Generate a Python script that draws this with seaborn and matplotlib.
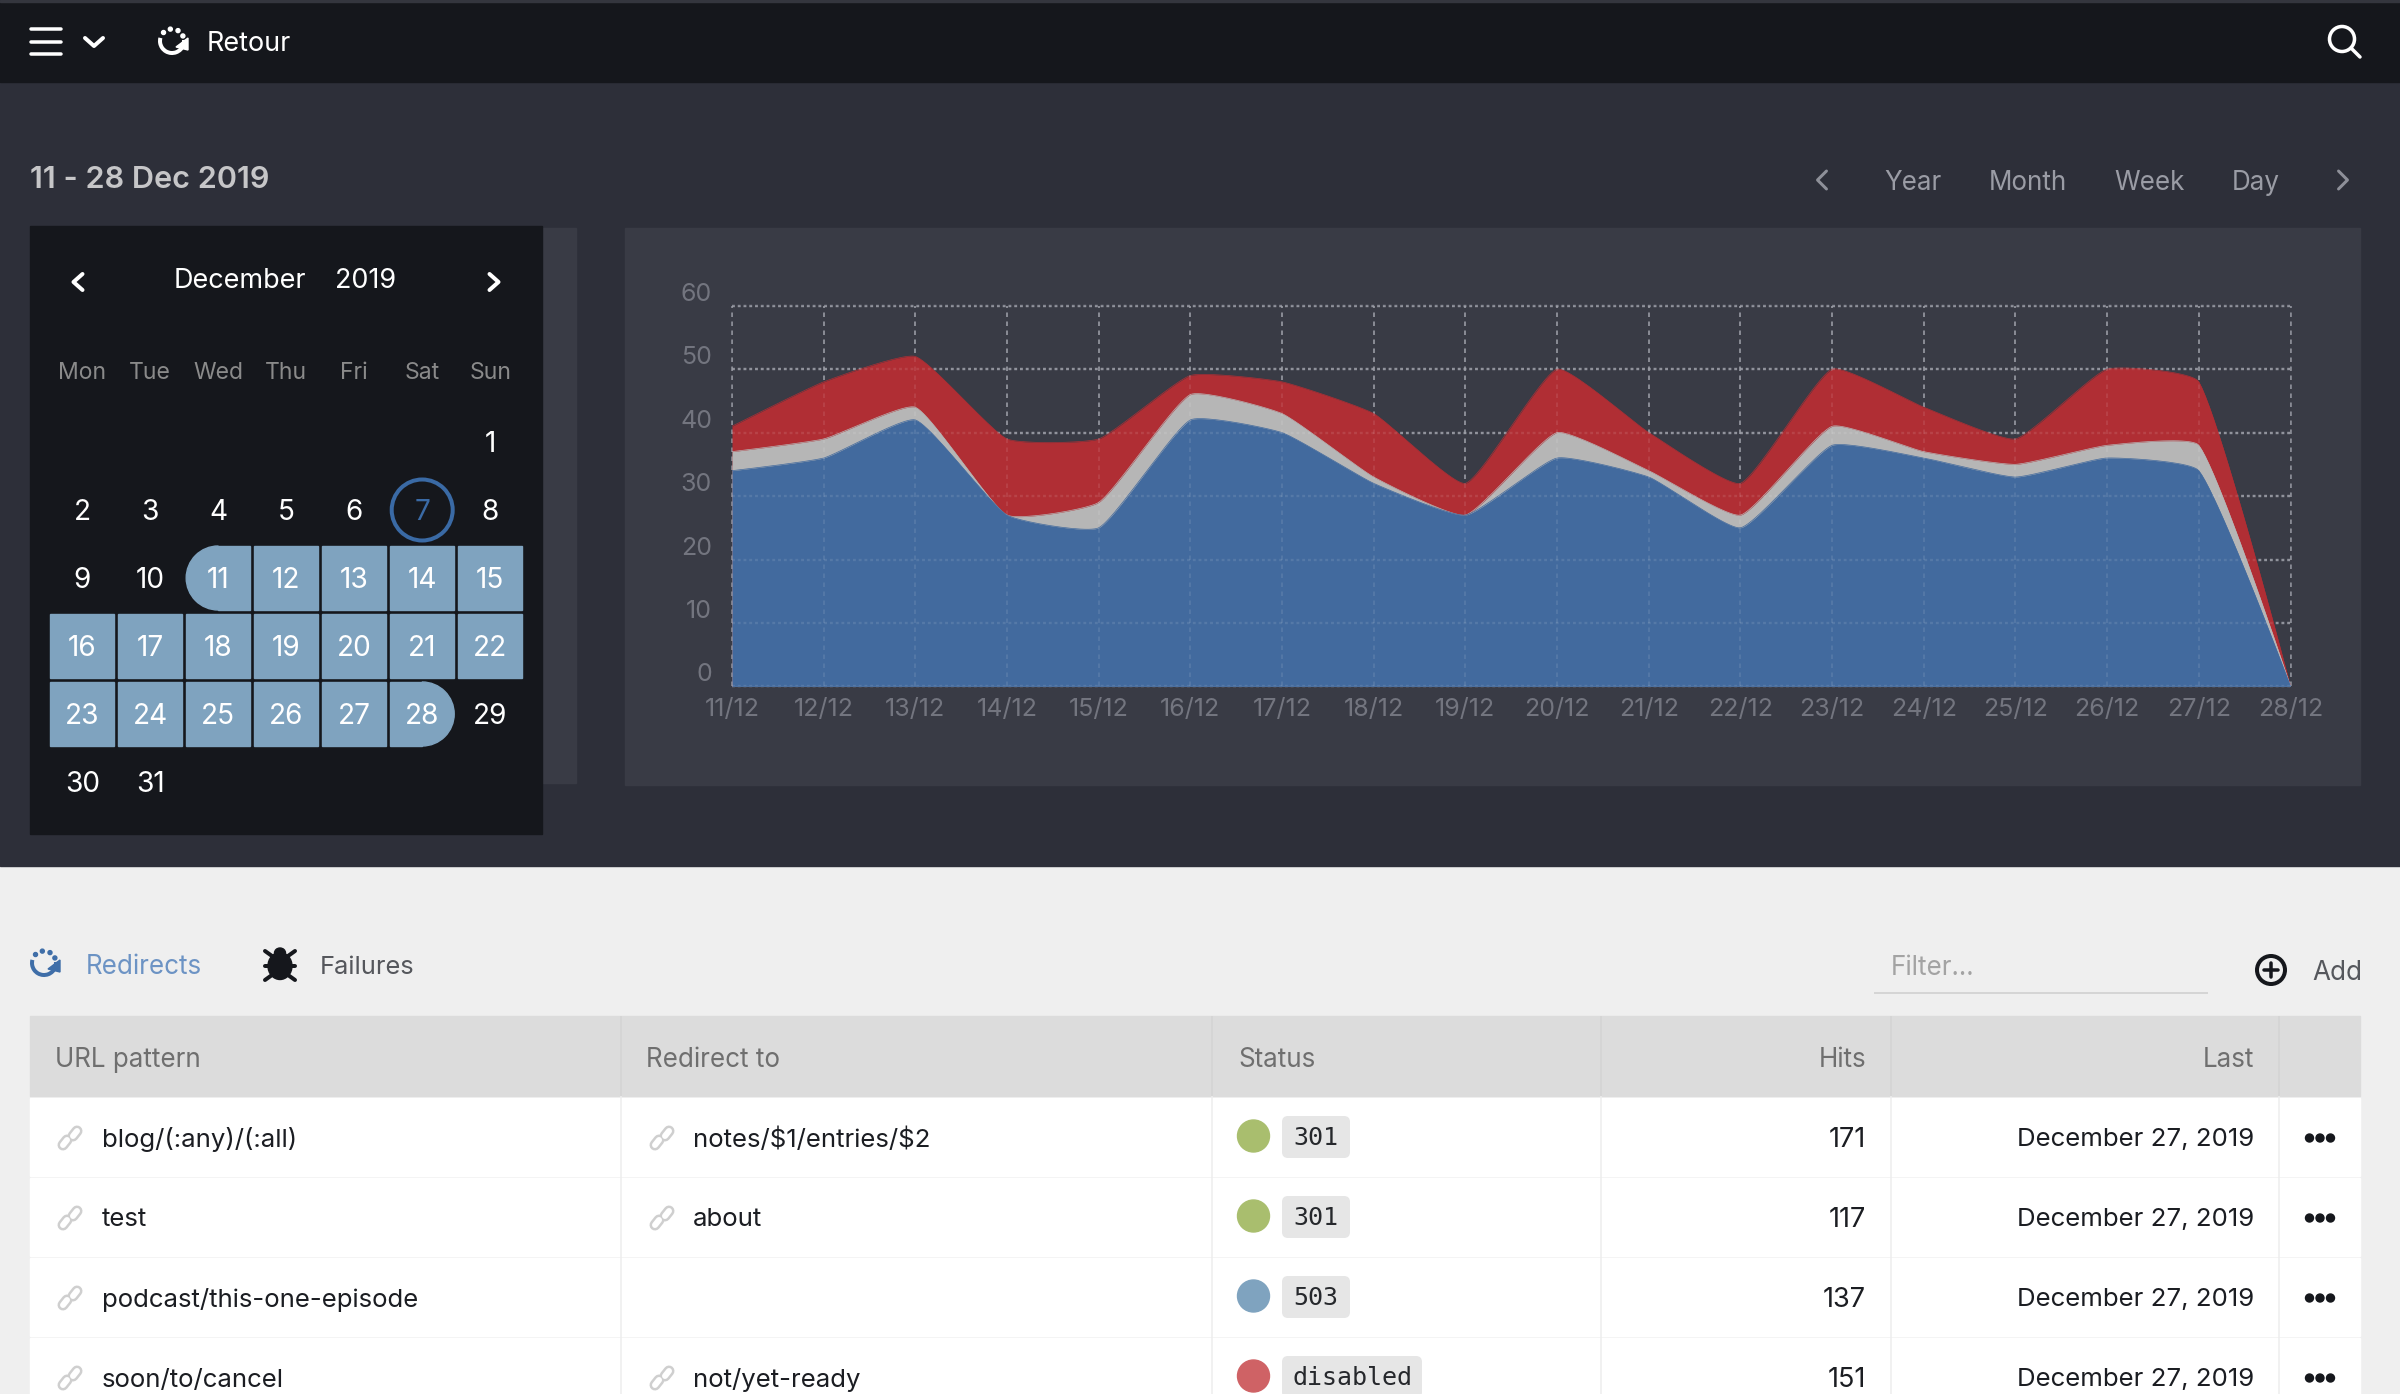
import numpy as np
import pandas as pd
import matplotlib
matplotlib.use('Agg')
import matplotlib.pyplot as plt
import seaborn as sns
from matplotlib.lines import Line2D
from matplotlib.patches import Arc, Circle, Ellipse, FancyBboxPatch, Polygon, Rectangle, Wedge

# chart data, stacked from the bottom up
days = ['11/12', '12/12', '13/12', '14/12', '15/12', '16/12', '17/12', '18/12', '19/12',
        '20/12', '21/12', '22/12', '23/12', '24/12', '25/12', '26/12', '27/12', '28/12']
redirect_hits = [34, 36, 42, 27, 25, 42, 40, 32, 27, 36, 33, 25, 38, 36, 33, 36, 34, 0]
unavailable_hits = [3, 3, 2, 0, 4, 4, 3, 1, 0, 4, 1, 2, 3, 1, 2, 2, 4, 0]
failed_hits = [4, 9, 8, 12, 10, 3, 5, 10, 5, 10, 6, 5, 9, 7, 4, 12, 10, 0]
y_ticks = [0, 10, 20, 30, 40, 50, 60]

# page text
weekdays = ['Mon', 'Tue', 'Wed', 'Thu', 'Fri', 'Sat', 'Sun']
nav_labels = ['Year', 'Month', 'Week', 'Day']
table_headers = ['URL pattern', 'Redirect to', 'Status', 'Hits', 'Last']
url_patterns = ['blog/(:any)/(:all)', 'test', 'podcast/this-one-episode', 'soon/to/cancel']
redirect_targets = ['notes/$1/entries/$2', 'about', '', 'not/yet-ready']
statuses = ['301', '301', '503', 'disabled']
hits = ['171', '117', '137', '151']
last_dates = ['December 27, 2019'] * 4

W, H = 2400, 1394
DARK = '#15171C'
PAGE = '#2D2F39'
PANEL = '#393B45'
LIGHT = '#EFEFEF'
RANGE = '#7FA3BF'
BLUE = '#426A9E'
RED = '#B02E34'
GRAY = '#B6B6B6'
GRID = '#858791'
TICK = '#73757F'
STATUS_COLORS = {'301': '#A9BE6E', '503': '#7FA3BF', 'disabled': '#CF6265'}

CHART_LEFT, CHART_RIGHT, CHART_TOP, CHART_BOTTOM = 732, 2290.5, 305.7, 686.4


def pt(px):
    return px * 0.72


def smooth_curve(values, tension=0.15, steps=24):
    # bezier spline with tension, control points weighted by pixel distance
    sx = (CHART_RIGHT - CHART_LEFT) / (len(values) - 1)
    sy = (CHART_BOTTOM - CHART_TOP) / 60
    y = np.array(values, dtype=float)
    x = np.arange(len(y), dtype=float)
    n = len(y)
    before = np.zeros((n, 2))
    after = np.zeros((n, 2))
    for i in range(n):
        cur = np.array([x[i], y[i]])
        before[i] = cur
        after[i] = cur
        if i == 0 or i == n - 1:
            continue
        prev_gap = np.hypot(sx, (y[i] - y[i - 1]) * sy)
        next_gap = np.hypot(sx, (y[i + 1] - y[i]) * sy)
        total = prev_gap + next_gap
        delta = np.array([x[i + 1] - x[i - 1], y[i + 1] - y[i - 1]])
        before[i] = cur - delta * tension * prev_gap / total
        after[i] = cur + delta * tension * next_gap / total
    xs, ys = [], []
    t = np.linspace(0, 1, steps)[:, None]
    for i in range(n - 1):
        p0, p3 = np.array([x[i], y[i]]), np.array([x[i + 1], y[i + 1]])
        pts = (1 - t) ** 3 * p0 + 3 * (1 - t) ** 2 * t * after[i] + 3 * (1 - t) * t ** 2 * before[i + 1] + t ** 3 * p3
        xs.extend(pts[:, 0])
        ys.extend(pts[:, 1])
    return np.array(xs), np.array(ys)


def text(ax, x, y, s, size, color, ha='left', va='center', weight='normal', family=None):
    # centre of the lettering sits a little under the centre of the text box
    return ax.text(x, y + 3, s, fontsize=pt(size), color=color, ha=ha, va=va, fontweight=weight,
                   family=family or 'Inter', parse_math=False)


def line(ax, xs, ys, color, width, cap='round', z=3):
    ax.add_line(Line2D(xs, ys, color=color, lw=pt(width), solid_capstyle=cap,
                       solid_joinstyle='round', zorder=z))


def chevron(ax, x, y, direction, color, w=7, h=9, width=3.5):
    if direction == 'left':
        line(ax, [x + w / 2, x - w / 2, x + w / 2], [y - h, y, y + h], color, width)
    elif direction == 'right':
        line(ax, [x - w / 2, x + w / 2, x - w / 2], [y - h, y, y + h], color, width)
    else:
        line(ax, [x - h, x, x + h], [y - w / 2, y + w / 2, y - w / 2], color, width)


def logo(ax, cx, cy, color, r=12):
    ax.add_patch(Arc((cx, cy), 2 * r, 2 * r, theta1=-5, theta2=195, color=color, lw=pt(4), zorder=3))
    for angle in [225, 262, 300, 335]:
        a = np.radians(angle)
        ax.add_patch(Circle((cx + r * np.cos(a), cy + r * np.sin(a)), 2, color=color, zorder=3))
    ax.add_patch(Polygon([(cx + r + 4, cy + 9), (cx + r - 8, cy + 6), (cx + r + 4, cy - 3)],
                         color=color, zorder=3))


def bug(ax, cx, cy, color='#15171C'):
    ax.add_patch(Ellipse((cx, cy + 3), 24, 27, color=color, zorder=3))
    ax.add_patch(Ellipse((cx, cy - 10), 11, 10, color=color, zorder=3))
    for dy, lean in [(-7, -5), (3, 0), (12, 5)]:
        line(ax, [cx - 8, cx - 15], [cy + dy, cy + dy + lean], color, 4)
        line(ax, [cx + 8, cx + 15], [cy + dy, cy + dy + lean], color, 4)


def link_icon(ax, cx, cy):
    for x0, y0, x1, y1 in [(-7, 7, -3, 2), (3, -2, 7, -7)]:
        line(ax, [cx + x0, cx + x1], [cy + y0, cy + y1], '#CFCFCF', 11)
        line(ax, [cx + x0, cx + x1], [cy + y0, cy + y1], 'white', 6, z=4)


sns.set_theme(style='dark')
plt.rcParams['font.family'] = ['Inter', 'DejaVu Sans']

fig = plt.figure(figsize=(W / 100, H / 100), dpi=100, facecolor=LIGHT)
ui = fig.add_axes([0, 0, 1, 1])
ui.set_xlim(0, W)
ui.set_ylim(H, 0)
ui.axis('off')

# dark top part of the page
ui.add_patch(Rectangle((0, 0), W, 866, color=PAGE, zorder=0))
ui.add_patch(Rectangle((0, 0), W, 82, color=DARK, zorder=1))
ui.add_patch(Rectangle((0, 0), W, 2, color='#34363E', zorder=1))
for y in [28.5, 41.5, 54]:
    line(ui, [31, 61], [y, y], 'white', 3.5)
chevron(ui, 94, 42, 'down', 'white', w=8, h=9, width=4)
logo(ui, 172, 41, 'white')
text(ui, 207, 41, 'Retour', 27, 'white')
ui.add_patch(Circle((2342, 39), 12.5, fill=False, ec='white', lw=pt(3.5), zorder=3))
line(ui, [2351, 2360], [48, 57], 'white', 3.5)

text(ui, 30, 176.5, '11 - 28 Dec 2019', 30.6, '#C6C6C8', weight='semibold')
chevron(ui, 1822, 180, 'left', '#8E9099', w=9, h=9, width=3)
chevron(ui, 2343, 180, 'right', '#8E9099', w=9, h=9, width=3)
for label, x in zip(nav_labels, [1913, 2028, 2150, 2256]):
    text(ui, x, 180, label, 26, '#9A9CA5', ha='center')

# calendar
ui.add_patch(Rectangle((542, 228), 34, 555, color=PANEL, zorder=1))
ui.add_patch(Rectangle((30, 226), 512, 608, color=DARK, zorder=2))
chevron(ui, 78, 282, 'left', 'white', w=9, h=8, width=4)
chevron(ui, 494, 282, 'right', 'white', w=9, h=8, width=4)
text(ui, 240, 278, 'December', 27, 'white', ha='center')
text(ui, 366, 278, '2019', 27, 'white', ha='center')
col_x = [82.2 + 68 * i for i in range(7)]
row_y = [442 + 68 * i for i in range(6)]
for label, x in zip(weekdays, col_x):
    text(ui, x, 370, label, 23, '#8A8A8A', ha='center')

day = 1
for row in range(6):
    start = 6 if row == 0 else 0
    for col in range(start, 7):
        if day > 31:
            break
        x, y = col_x[col], row_y[row]
        color = 'white'
        if 11 <= day <= 28:
            left, top = x - 32, y - 32
            if day == 11 or day == 28:
                # half round end of the selected range
                ui.add_patch(Rectangle((x if day == 11 else left, top), 32, 64, color=RANGE, zorder=3))
                theta = (90, 270) if day == 11 else (-90, 90)
                ui.add_patch(Wedge((x, y), 32, *theta, color=RANGE, zorder=3))
            else:
                ui.add_patch(Rectangle((left, top), 64, 64, color=RANGE, zorder=3))
        if day == 7:
            ui.add_patch(Circle((x, y), 30.5, fill=False, ec='#3A6AA5', lw=pt(4), zorder=3))
            color = '#3A6AA5'
        text(ui, x, y, str(day), 28, color, ha='center').set_zorder(5)
        day += 1

# chart panel
ui.add_patch(Rectangle((624.5, 228), 1735, 557, color=PANEL, zorder=1))

ax = fig.add_axes([CHART_LEFT / W, 1 - CHART_BOTTOM / H,
                   (CHART_RIGHT - CHART_LEFT) / W, (CHART_BOTTOM - CHART_TOP) / H])
ax.patch.set_alpha(0)
stack_1 = np.array(redirect_hits)
stack_2 = stack_1 + np.array(unavailable_hits)
stack_3 = stack_2 + np.array(failed_hits)
for values, color, name in [(stack_3, RED, 'failed'), (stack_2, GRAY, 'unavailable'), (stack_1, BLUE, 'redirects')]:
    xs, ys = smooth_curve(values)
    frame = pd.DataFrame({'day': xs, 'hits': ys})
    sns.lineplot(data=frame, x='day', y='hits', color=color, lw=0.5, sort=False, estimator=None, ax=ax, zorder=3)
    ax.fill_between(xs, 0, ys, color=color, lw=0, zorder=3)

ax.set_xlim(0, len(days) - 1)
ax.set_ylim(0, 60)
ax.set_xlabel('')
ax.set_ylabel('')
ax.set_xticks(range(len(days)), days)
ax.set_yticks(y_ticks)
ax.set_axisbelow(True)
ax.grid(axis='y', color=GRID, lw=pt(2.4), linestyle=(0, (1.2, 1.2)), clip_on=False)
ax.grid(axis='x', color=GRID, lw=pt(1.8), linestyle=(0, (2.5, 2.5)), clip_on=False)
# the grid shows faintly through the areas
ax.hlines(y_ticks, 0, len(days) - 1, color='white', alpha=0.1, lw=pt(2.4), linestyle=(0, (1.2, 1.2)), zorder=4)
ax.vlines(range(len(days)), 0, 60, color='white', alpha=0.1, lw=pt(1.8), linestyle=(0, (2.5, 2.5)), zorder=4)
sns.despine(ax=ax, left=True, bottom=True)
ax.tick_params(axis='x', length=0, pad=pt(12), labelsize=pt(25), labelcolor=TICK)
ax.tick_params(axis='y', length=0, pad=pt(20), labelsize=pt(25), labelcolor=TICK)
for label in ax.get_yticklabels():
    label.set_verticalalignment('bottom')

# lower part of the page
logo(ui, 44, 963, '#3F6EA8')
text(ui, 85.5, 964, 'Redirects', 26, '#6C93C4')
bug(ui, 280, 963)
text(ui, 319.5, 964, 'Failures', 25.5, '#55575C')
text(ui, 1891, 965, 'Filter...', 26, '#A3A3A3')
line(ui, [1874, 2208], [993, 993], '#D5D5D5', 2, cap='butt')
ui.add_patch(Circle((2271, 970), 14, fill=False, ec='#15171C', lw=pt(4), zorder=3))
line(ui, [2264, 2278], [970, 970], '#15171C', 3.5)
line(ui, [2271, 2271], [963, 977], '#15171C', 3.5)
text(ui, 2312, 970, 'Add', 26, '#55575C')

ui.add_patch(Rectangle((30, 1016), 2330, 80, color='#DCDCDC', zorder=1))
row_tops = [1098, 1178, 1258, 1338]
for top in row_tops:
    ui.add_patch(Rectangle((30, top), 2330, 78, color='white', zorder=1))
for x in [620.5, 1212, 1601, 1891, 2279]:
    line(ui, [x, x], [1016, 1096], '#D3D3D3', 1.5, cap='butt', z=2)
    line(ui, [x, x], [1096, H], '#EDEDED', 1.5, cap='butt', z=2)

header_x = [55, 646.5, 1238, 1866, 2254]
for label, x, ha in zip(table_headers, header_x, ['left', 'left', 'left', 'right', 'right']):
    text(ui, x, 1057, label, 26, '#6F6F6F', ha=ha)

for i, top in enumerate(row_tops):
    y = top + 39
    link_icon(ui, 70, y + 1)
    text(ui, 102, y, url_patterns[i], 25.8, '#1B1D22')
    if redirect_targets[i]:
        link_icon(ui, 662, y + 1)
        text(ui, 693, y, redirect_targets[i], 25.8, '#1B1D22')
    ui.add_patch(Circle((1253.5, y - 1), 16, color=STATUS_COLORS[statuses[i]], zorder=3))
    badge_w = 140 if statuses[i] == 'disabled' else 68
    ui.add_patch(FancyBboxPatch((1286, top + 22), badge_w - 8, 34, boxstyle='round,pad=4,rounding_size=6',
                                fc='#E6E6E6', ec='none', zorder=3))
    text(ui, 1282 + badge_w / 2, y - 2, statuses[i], 25, '#26282C', ha='center', family='DejaVu Sans Mono')
    text(ui, 1866, y, hits[i], 27, '#1B1D22', ha='right')
    text(ui, 2254, y, last_dates[i], 25.8, '#1B1D22', ha='right')
    for dx in [-10.5, 0, 10.5]:
        ui.add_patch(Circle((2320 + dx, y + 1), 4, color='#15171C', zorder=3))

fig.savefig('out.png', dpi=100, facecolor=fig.get_facecolor())
